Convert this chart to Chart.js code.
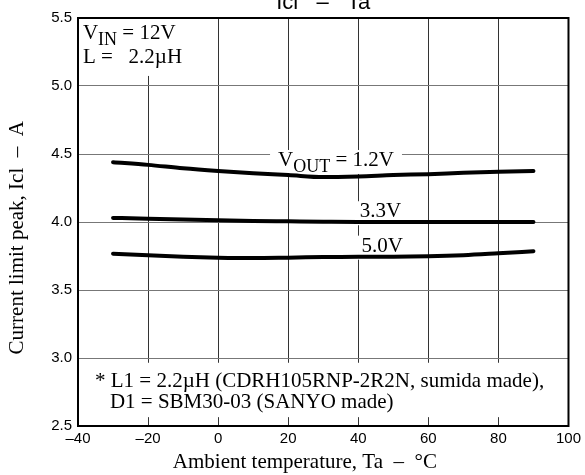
<!DOCTYPE html>
<html>
<head>
<meta charset="utf-8">
<script src="https://cdn.jsdelivr.net/npm/chart.js@4.4.1/dist/chart.umd.min.js"></script>
<style>
  html, body { margin: 0; padding: 0; background: #fff; }
  #wrap { width: 585px; height: 475px; }
</style>
</head>
<body>
<div id="wrap"><canvas id="iclChart" width="585" height="475"></canvas></div>
<script>
// ambient temperature (°C) where the curves were read
const temps = [-30, -20, -10, 0, 10, 20, 30, 40, 50, 60, 70, 80, 90];
// current limit peak (A) for each output voltage
const icl12 = [4.44, 4.42, 4.395, 4.375, 4.358, 4.345, 4.33, 4.335, 4.345, 4.352, 4.362, 4.37, 4.375];
const icl33 = [4.03, 4.024, 4.018, 4.012, 4.008, 4.005, 4.002, 4.0, 4.0, 4.0, 4.0, 4.0, 4.0];
const icl50 = [3.767, 3.755, 3.745, 3.738, 3.735, 3.738, 3.742, 3.745, 3.745, 3.748, 3.756, 3.77, 3.785];

// axis ticks
const xTicks = [-40, -20, 0, 20, 40, 60, 80, 100];
const yTicks = [2.5, 3.0, 3.5, 4.0, 4.5, 5.0, 5.5];

const serif = '"Liberation Serif", "Times New Roman", serif';
const sans = '"Liberation Sans", Arial, sans-serif';

const toPoints = (vals) => temps.map((t, i) => ({x: t, y: vals[i]}));

const curve = (label, vals) => ({
    label: label,
    data: toPoints(vals),
    borderColor: '#000',
    borderWidth: 4,
    borderCapStyle: 'round',
    pointRadius: 0,
    tension: 0.4,
    cubicInterpolationMode: 'monotone',
    fill: false
});

// text pieces: [text, size, dy]
function drawRich(ctx, parts, x, y) {
    let cx = x;
    parts.forEach(p => {
        ctx.font = p[1] + 'px ' + serif;
        ctx.fillText(p[0], cx, y + (p[2] || 0));
        cx += ctx.measureText(p[0]).width;
    });
    return cx - x;
}

function richWidth(ctx, parts) {
    let w = 0;
    parts.forEach(p => {
        ctx.font = p[1] + 'px ' + serif;
        w += ctx.measureText(p[0]).width;
    });
    return w;
}

function label(ctx, parts, x, y) {
    const w = richWidth(ctx, parts);
    ctx.fillStyle = '#fff';
    ctx.fillRect(x - 8, y - 16, w + 16, 24);
    ctx.fillStyle = '#000';
    drawRich(ctx, parts, x, y);
}

const notes = {
    id: 'notes',
    beforeDatasetsDraw(chart) {
        const {ctx, chartArea: a, scales: {x, y}} = chart;
        ctx.save();
        ctx.textBaseline = 'alphabetic';
        ctx.textAlign = 'left';

        // conditions box, top left
        const vin = [['V', 21], ['IN', 18, 6], [' = 12V', 21]];
        const lval = [['L =   2.2\u00b5H', 21]];
        ctx.fillStyle = '#fff';
        ctx.fillRect(a.left + 1, a.top + 1, richWidth(ctx, vin) + 14, y.getPixelForValue(5.074) - a.top - 1);
        ctx.fillStyle = '#000';
        drawRich(ctx, vin, x.getPixelForValue(-38.6), y.getPixelForValue(5.343));
        drawRich(ctx, lval, x.getPixelForValue(-38.6), y.getPixelForValue(5.171));

        // curve labels
        label(ctx, [['V', 21], ['OUT', 18, 6], [' = 1.2V', 21]], x.getPixelForValue(17.1), y.getPixelForValue(4.412));
        label(ctx, [['3.3V', 21]], x.getPixelForValue(40.4), y.getPixelForValue(4.035));
        label(ctx, [['5.0V', 21]], x.getPixelForValue(40.9), y.getPixelForValue(3.782));

        // footnote
        const top = y.getPixelForValue(2.965);
        const bot = y.getPixelForValue(2.565);
        ctx.fillStyle = '#fff';
        ctx.fillRect(a.left + 1, top, a.right - a.left - 2, bot - top);
        ctx.fillStyle = '#000';
        drawRich(ctx, [['* L1 = 2.2\u00b5H (CDRH105RNP-2R2N, sumida made),', 21]], x.getPixelForValue(-35.15), y.getPixelForValue(2.789));
        drawRich(ctx, [['D1 = SBM30-03 (SANYO made)', 21]], x.getPixelForValue(-30.9), y.getPixelForValue(2.63));

        // chart title, partly cut off at the top edge
        ctx.font = '22px ' + sans;
        ctx.textAlign = 'center';
        ctx.fillText('Icl   \u2013   Ta', (a.left + a.right) / 2, a.top - 9);
        ctx.restore();
    },
    afterDatasetsDraw(chart) {
        const {ctx, chartArea: a} = chart;
        ctx.save();
        ctx.strokeStyle = '#000';
        ctx.lineWidth = 2;
        ctx.strokeRect(a.left, a.top, a.right - a.left, a.bottom - a.top);
        ctx.restore();
    }
};

new Chart('iclChart', {
    type: 'line',
    data: {
        datasets: [
            curve('1.2V', icl12),
            curve('3.3V', icl33),
            curve('5.0V', icl50)
        ]
    },
    plugins: [notes],
    options: {
        responsive: false,
        animation: false,
        layout: { padding: { top: 18, right: 16, left: 0, bottom: 0 } },
        plugins: {
            legend: { display: false },
            tooltip: { enabled: false },
            title: { display: false }
        },
        scales: {
            x: {
                type: 'linear',
                min: -40,
                max: 100,
                afterBuildTicks: s => { s.ticks = xTicks.map(v => ({value: v})); },
                afterFit: s => { s.height = 49; },
                grid: { color: '#333', lineWidth: 1, drawTicks: false },
                border: { display: true, color: '#000', width: 2 },
                ticks: {
                    padding: 4,
                    color: '#000',
                    maxRotation: 0,
                    autoSkip: false,
                    font: { family: sans, size: 15 },
                    callback: v => v < 0 ? '\u2013' + Math.abs(v) : String(v)
                },
                title: {
                    display: true,
                    text: 'Ambient temperature, Ta  \u2013  \u00b0C       ',
                    color: '#000',
                    font: { family: serif, size: 21 },
                    padding: { top: 0, bottom: 0 }
                }
            },
            y: {
                type: 'linear',
                min: 2.5,
                max: 5.5,
                afterBuildTicks: s => { s.ticks = yTicks.map(v => ({value: v})); },
                afterFit: s => { s.width = 78; },
                grid: { color: '#777', lineWidth: 1, drawTicks: false },
                border: { display: true, color: '#000', width: 2 },
                ticks: {
                    padding: 6,
                    color: '#000',
                    font: { family: sans, size: 15 },
                    callback: v => v.toFixed(1)
                },
                title: {
                    display: true,
                    text: 'Current limit peak, Icl  \u2013  A      ',
                    color: '#000',
                    font: { family: serif, size: 21 },
                    padding: { top: 5, bottom: 0 }
                }
            }
        }
    }
});
</script>
</body>
</html>
